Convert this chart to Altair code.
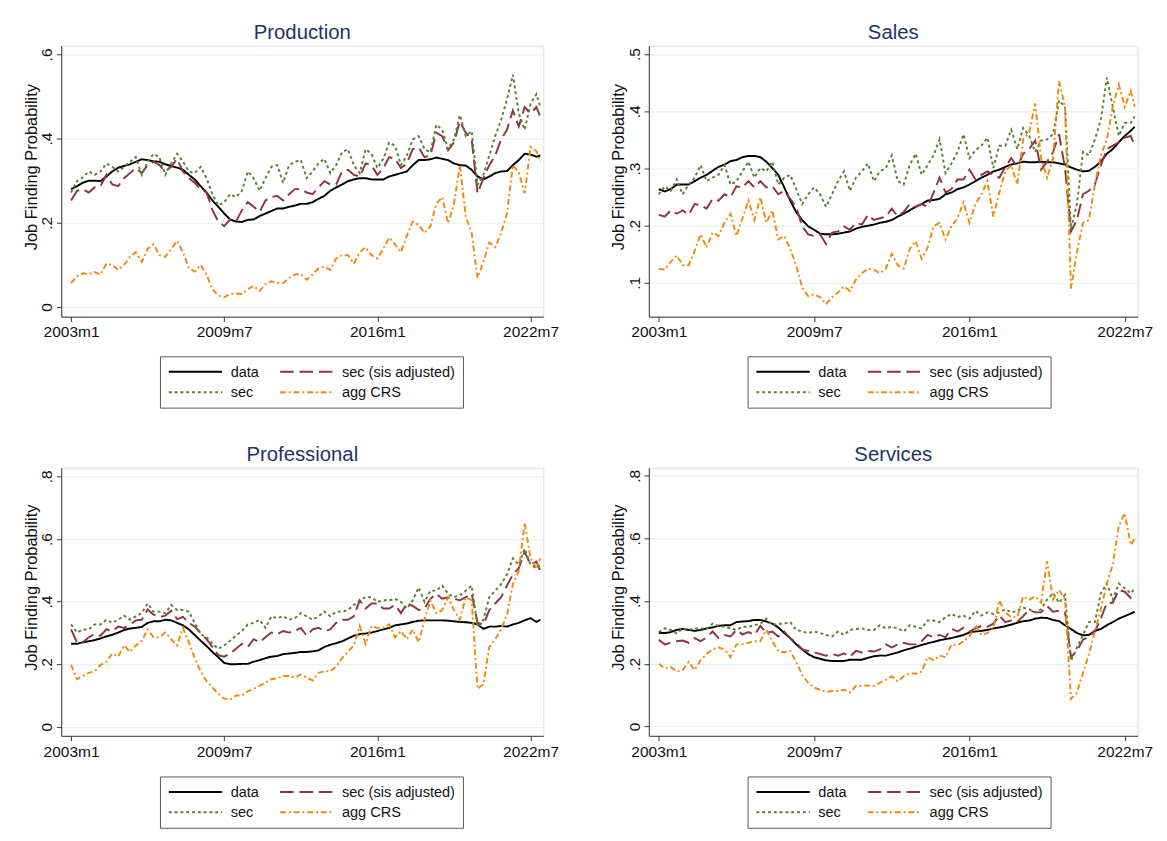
import altair as alt
import pandas as pd

# month index counted from 2003m1 (quarterly readings + last month)
MONTHS = list(range(0, 238, 3)) + [239]
XTICK_POS = [0, 78, 156, 234]
XTICK_LABELS = ["2003m1", "2009m7", "2016m1", "2022m7"]
SERIES = ["data", "sec (sis adjusted)", "sec", "agg CRS"]
COLORS = ["#000000", "#8E3440", "#5A7F2E", "#F08A0C"]
DASHES = [[1, 0], [14, 6], [3, 3], [6, 3, 2, 3]]

# ---------------- Production ----------------
prod_data = [.280, .287, .295, .300, .300, .299, .310, .322, .331, .335, .339, .345, .351, .349, .346, .345, .339, .335, .331, .326,
             .314, .303, .287, .272, .253, .238, .222, .208, .203, .202, .207, .208, .216, .222, .228, .234, .234, .238, .241, .245,
             .245, .249, .257, .264, .276, .284, .291, .299, .303, .306, .306, .303, .303, .303, .310, .314, .318, .322, .337, .349,
             .349, .351, .355, .352, .349, .341, .337, .336, .326, .310, .303, .310, .318, .322, .323, .337, .349, .364, .362, .357, .360]
prod_secadj = [.253, .276, .280, .272, .284, .287, .314, .291, .287, .306, .318, .330, .318, .337, .345, .337, .322, .333, .352, .322,
               .306, .295, .280, .272, .230, .203, .192, .208, .203, .230, .249, .238, .226, .253, .261, .264, .253, .268, .280, .280,
               .272, .268, .284, .299, .291, .291, .322, .326, .314, .310, .341, .337, .314, .330, .356, .352, .330, .341, .375, .379,
               .356, .360, .414, .406, .372, .391, .441, .414, .398, .270, .306, .337, .360, .398, .421, .467, .429, .475, .460, .475, .452]
prod_sec = [.272, .299, .308, .322, .314, .322, .341, .333, .322, .333, .345, .356, .314, .345, .364, .356, .314, .341, .364, .345,
            .322, .318, .333, .306, .268, .241, .249, .268, .261, .276, .322, .306, .276, .306, .333, .337, .295, .337, .345, .349,
            .306, .322, .341, .352, .318, .337, .368, .375, .337, .318, .375, .364, .330, .352, .391, .383, .337, .360, .398, .406,
            .375, .368, .433, .421, .375, .398, .456, .406, .418, .290, .314, .360, .406, .444, .494, .552, .460, .421, .483, .506, .475]
prod_agg = [.057, .073, .080, .078, .083, .077, .103, .100, .088, .100, .119, .130, .107, .138, .149, .123, .119, .138, .157, .130,
            .092, .084, .100, .077, .042, .027, .023, .031, .032, .031, .042, .050, .038, .054, .061, .057, .057, .069, .077, .078,
            .065, .077, .092, .096, .088, .115, .123, .123, .103, .130, .142, .123, .115, .138, .165, .149, .130, .169, .203, .195,
            .176, .192, .245, .261, .199, .245, .337, .215, .176, .069, .107, .153, .142, .176, .222, .337, .320, .270, .380, .370, .345]

# ---------------- Sales ----------------
sales_data = [.264, .260, .264, .272, .272, .272, .278, .284, .289, .296, .303, .307, .313, .315, .320, .322, .322, .320, .312, .301,
              .289, .267, .244, .224, .210, .199, .193, .186, .185, .185, .186, .188, .190, .195, .198, .200, .202, .205,
              .207, .210, .216, .221, .227, .233, .238, .244, .245, .247, .255, .258, .264, .267, .272, .278, .284, .289, .295, .298,
              .303, .307, .309, .312, .311, .311, .312, .311, .311, .309, .307, .302, .298, .295, .296, .303, .312, .326, .334, .346,
              .357, .366, .373]
sales_secadj = [.219, .216, .227, .221, .227, .219, .238, .236, .230, .247, .244, .255, .250, .269, .267, .278, .267, .278, .267, .269,
                .255, .261, .247, .233, .199, .185, .182, .185, .168, .188, .190, .199, .193, .205, .202, .219, .210, .213,
                .216, .230, .216, .224, .238, .233, .238, .233, .258, .284, .258, .264, .281, .281, .298, .281, .289, .295, .289, .284,
                .303, .318, .303, .326, .334, .349, .298, .312, .329, .360, .301, .190, .210, .255, .261, .272, .306, .334, .340, .346,
                .354, .357, .340]
sales_sec = [.255, .269, .261, .281, .255, .272, .284, .306, .278, .284, .289, .306, .272, .278, .295, .312, .284, .301, .295, .312,
             .272, .284, .289, .264, .238, .255, .267, .255, .233, .255, .278, .295, .261, .284, .295, .309, .278, .295,
             .301, .323, .278, .272, .306, .326, .289, .306, .323, .351, .292, .309, .329, .360, .318, .332, .340, .354, .301, .340,
             .340, .368, .334, .371, .357, .329, .349, .351, .360, .419, .408, .195, .238, .329, .323, .351, .385, .459, .408, .357,
             .380, .380, .391]
sales_agg = [.125, .123, .137, .148, .131, .131, .156, .185, .162, .188, .182, .205, .221, .182, .213, .244, .210, .250, .205, .227,
             .176, .182, .159, .131, .092, .077, .080, .075, .063, .075, .083, .094, .086, .106, .117, .125, .123, .117,
             .125, .151, .131, .125, .159, .173, .142, .162, .199, .205, .176, .199, .213, .241, .205, .238, .255, .278, .216, .258,
             .295, .306, .272, .351, .363, .414, .318, .284, .318, .453, .408, .090, .154, .205, .210, .272, .323, .351, .408, .447,
             .408, .436, .408]

# ---------------- Professional ----------------
prof_data = [.265, .265, .270, .273, .277, .282, .289, .294, .301, .309, .314, .316, .319, .332, .337, .337, .342, .340, .332, .324,
             .311, .293, .275, .258, .239, .222, .204, .200, .200, .201, .201, .208, .213, .219, .224, .226, .232, .234, .236, .239,
             .239, .241, .244, .255, .262, .267, .273, .282, .291, .296, .298, .301, .306, .311, .316, .324, .327, .330, .335, .339,
             .340, .340, .340, .340, .339, .337, .335, .334, .332, .327, .313, .320, .320, .322, .320, .327, .332, .340, .347, .335, .342]
prof_secadj = [.311, .270, .270, .286, .296, .291, .311, .306, .320, .316, .327, .340, .342, .375, .358, .351, .355, .371, .344, .351,
               .332, .320, .299, .280, .255, .229, .224, .234, .249, .265, .255, .280, .270, .286, .301, .296, .306, .301, .306, .316,
               .291, .311, .316, .306, .311, .332, .342, .342, .353, .404, .378, .394, .394, .378, .378, .389, .363, .394, .386, .373,
               .378, .409, .425, .409, .414, .409, .404, .414, .425, .332, .327, .373, .394, .414, .451, .487, .507, .559, .518, .528, .497]
prof_sec = [.327, .301, .311, .311, .327, .327, .342, .332, .342, .355, .342, .353, .363, .394, .368, .368, .363, .389, .373, .373,
            .368, .332, .296, .286, .265, .249, .260, .275, .291, .306, .327, .332, .342, .316, .353, .347, .353, .342, .347, .363,
            .353, .342, .353, .368, .353, .368, .368, .373, .389, .404, .414, .414, .399, .404, .404, .409, .399, .378, .404, .445,
            .399, .435, .435, .451, .425, .414, .420, .435, .451, .320, .342, .414, .435, .456, .487, .538, .518, .569, .518, .507, .518]
prof_agg = [.198, .152, .162, .172, .177, .198, .208, .234, .224, .260, .239, .260, .275, .311, .286, .286, .301, .280, .260, .316,
            .270, .219, .177, .146, .126, .105, .090, .087, .100, .100, .113, .121, .131, .141, .152, .155, .162, .162, .157, .167,
            .157, .148, .172, .177, .177, .193, .219, .239, .260, .322, .265, .322, .316, .316, .327, .286, .306, .280, .311, .270,
            .342, .404, .363, .373, .414, .373, .342, .414, .404, .121, .136, .255, .280, .311, .358, .456, .497, .652, .538, .507, .538]

# ---------------- Services ----------------
serv_data = [.298, .298, .301, .308, .311, .308, .305, .308, .313, .316, .321, .323, .323, .333, .335, .336, .340, .340, .335, .328,
             .316, .298, .282, .262, .246, .231, .221, .216, .211, .209, .209, .209, .213, .213, .213, .219, .224, .226,
             .226, .231, .236, .243, .248, .254, .260, .265, .270, .275, .279, .282, .287, .292, .300, .303, .305, .308, .313, .316,
             .320, .325, .331, .336, .338, .344, .347, .346, .340, .336, .323, .311, .298, .291, .292, .305, .311, .323, .333, .344,
             .352, .360, .366]
serv_secadj = [.277, .262, .267, .272, .274, .267, .282, .272, .284, .303, .282, .292, .287, .308, .294, .301, .292, .321, .298, .303,
               .287, .303, .282, .267, .246, .241, .236, .231, .226, .231, .226, .233, .223, .241, .236, .241, .239, .246,
               .262, .252, .262, .267, .262, .262, .272, .292, .285, .292, .285, .311, .303, .315, .303, .313, .321, .318, .328, .354,
               .333, .338, .333, .352, .372, .364, .364, .384, .366, .369, .366, .221, .241, .277, .287, .303, .344, .395, .395, .436,
               .430, .410, .425]
serv_sec = [.301, .313, .308, .297, .313, .308, .313, .313, .311, .328, .321, .318, .313, .308, .318, .318, .323, .328, .344, .323,
            .328, .328, .333, .308, .303, .298, .303, .298, .292, .287, .303, .292, .308, .311, .313, .308, .308, .323,
            .313, .318, .313, .303, .323, .318, .313, .338, .338, .333, .349, .359, .349, .354, .344, .369, .354, .364, .359, .364,
            .374, .364, .369, .379, .374, .364, .374, .405, .425, .395, .420, .210, .252, .292, .333, .333, .425, .456, .405, .456,
            .441, .425, .441]
serv_agg = [.200, .185, .190, .175, .180, .206, .180, .211, .231, .246, .252, .246, .221, .262, .262, .267, .272, .272, .308, .272,
            .241, .236, .241, .206, .165, .139, .124, .117, .110, .113, .113, .117, .108, .129, .129, .131, .129, .139,
            .149, .160, .144, .160, .170, .168, .175, .221, .211, .226, .221, .262, .259, .272, .287, .323, .292, .298, .313, .402,
            .364, .349, .349, .415, .405, .415, .395, .528, .405, .436, .405, .088, .108, .170, .231, .303, .374, .456, .517, .640,
            .681, .579, .599]

FONT = "Liberation Sans"
X_EXPR = "".join(f"datum.value == {p} ? '{l}' : " for p, l in zip(XTICK_POS, XTICK_LABELS)) + "''"
Y_EXPR = "datum.value == 0 ? '0' : replace(format(datum.value, '.1f'), '0.', '.')"
# long horizontal legend stroke, extending to the right of the symbol box
LEGEND_SYMBOL = "M-1,0H7"


def panel(title, series_vals, ydom, yticks, width, height, legx, legy):
    rows = []
    for s, vals in zip(SERIES, series_vals):
        for m, v in zip(MONTHS, vals):
            rows.append({"m": m, "value": v, "series": s})
    df = pd.DataFrame(rows)
    return alt.Chart(df, title=alt.Title(title, fontSize=21, fontWeight="normal", color="#1E3563",
                                         font=FONT, frame="group", anchor="middle", offset=3)).mark_line(
        strokeWidth=2, clip=True
    ).encode(
        x=alt.X("m:Q", scale=alt.Scale(domain=[-5, 240.5], nice=False, zero=False),
                axis=alt.Axis(values=XTICK_POS, labelExpr=X_EXPR, title=None, grid=False,
                              labelFontSize=16, labelFont=FONT, labelColor="#111", tickSize=5,
                              tickColor="#333", domainColor="#333", labelPadding=3, labelFlush=False)),
        y=alt.Y("value:Q", scale=alt.Scale(domain=ydom, nice=False, zero=False),
                axis=alt.Axis(values=yticks, labelExpr=Y_EXPR, title="Job Finding Probability",
                              titleFontSize=17, titleFont=FONT, titleFontWeight="normal", titleColor="#111",
                              titleY=height / 2 - 15,
                              labelFontSize=16, labelFont=FONT, labelColor="#111", labelAngle=270,
                              labelAlign="center", labelBaseline="bottom", tickSize=5, tickColor="#333",
                              domainColor="#333", grid=True, gridColor="#E6EFF1", gridWidth=1.2,
                              labelPadding=2, titlePadding=-1)),
        color=alt.Color("series:N", scale=alt.Scale(domain=SERIES, range=COLORS),
                        legend=alt.Legend(title=None, orient="none", legendX=legx, legendY=legy, columns=2,
                                          direction="horizontal",
                                          symbolType=LEGEND_SYMBOL, symbolSize=190, symbolStrokeWidth=2,
                                          labelFontSize=15, labelFont=FONT, labelColor="#111",
                                          labelOffset=49, columnPadding=17, rowPadding=5,
                                          strokeColor="#555", padding=8)),
        strokeDash=alt.StrokeDash("series:N", scale=alt.Scale(domain=SERIES, range=DASHES), legend=None),
        order=alt.Order("m:Q"),
    ).properties(width=width, height=height)


tl = panel("Production", [prod_data, prod_secadj, prod_sec, prod_agg], [-0.023, 0.621], [0, .2, .4, .6], 498, 280, 102, 321)
tr = panel("Sales", [sales_data, sales_secadj, sales_sec, sales_agg], [0.041, 0.515], [.1, .2, .3, .4, .5], 505, 280, 102, 321)
bl = panel("Professional", [prof_data, prof_secadj, prof_sec, prof_agg], [-0.029, 0.828], [0, .2, .4, .6, .8], 498, 277, 102, 319)
br = panel("Services", [serv_data, serv_secadj, serv_sec, serv_agg], [-0.03, 0.826], [0, .2, .4, .6, .8], 505, 277, 102, 319)

top = alt.hconcat(tl, tr, spacing=51).resolve_scale(color="independent", strokeDash="independent")
bottom = alt.hconcat(bl, br, spacing=51).resolve_scale(color="independent", strokeDash="independent")
chart = alt.vconcat(top, bottom, spacing=36).resolve_scale(
    color="independent", strokeDash="independent"
).properties(
    padding={"left": 14, "top": 0, "right": 5, "bottom": 5}
).configure_view(stroke="transparent").configure(background="white")

chart.save("out.html", embed_options={"renderer": "svg", "actions": False})
